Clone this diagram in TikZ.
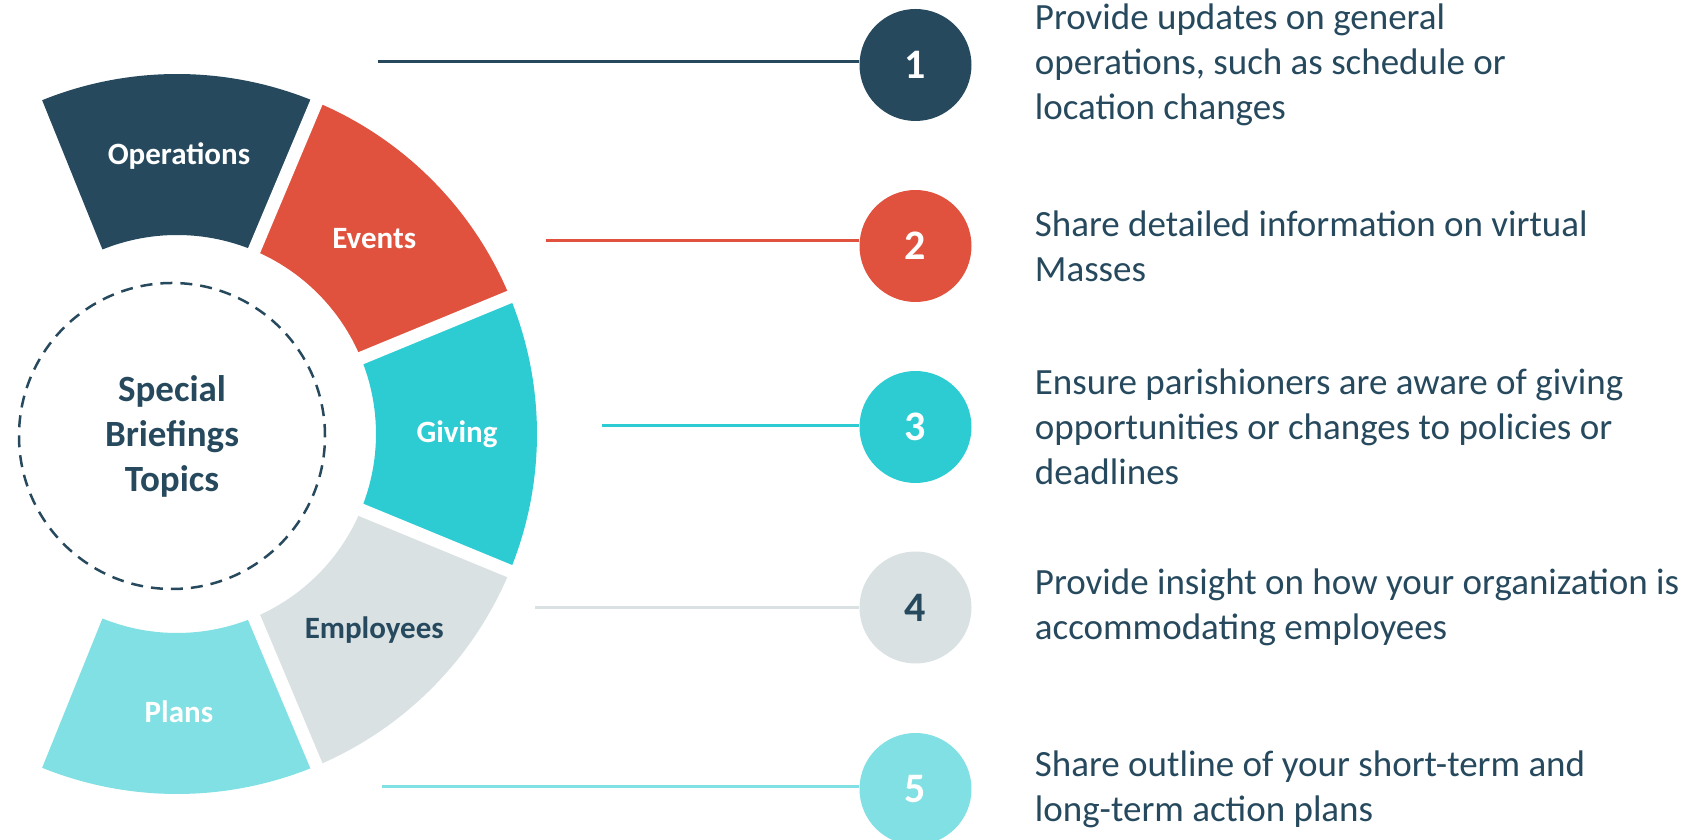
\documentclass[tikz,border=0pt]{standalone}
\usepackage{fontspec}
\setmainfont{Carlito}
\usetikzlibrary{positioning}
\definecolor{navy}{HTML}{26495E}
\definecolor{coral}{HTML}{E0523E}
\definecolor{aqua}{HTML}{2DCCD3}
\definecolor{mist}{HTML}{D9E1E3}
\definecolor{pale}{HTML}{80E0E3}
\tikzstyle{seg} = [font=\bfseries\fontsize{31}{36}\selectfont, text=white]
\tikzstyle{num} = [circle, minimum size=112pt, inner sep=0pt, font=\bfseries\fontsize{42}{48}\selectfont, text=white]
\tikzstyle{desc} = [align=left, inner sep=0pt, text=navy, font=\fontsize{37}{45}\selectfont]
\tikzstyle{link} = [line width=3pt]

\begin{document}
\begin{tikzpicture}[
			x=1pt, y=1pt,
			gap/.style={white, line width=13pt},
		]
		\useasboundingbox (0,0) rectangle (1701,840);

		% Ring of topics
		\begin{scope}[shift={(177,406)}]
			\fill[navy] (112:199) arc[start angle=112, end angle=67.2, radius=199]
				-- (67.2:360) arc[start angle=67.2, end angle=112, radius=360] -- cycle;
			\fill[coral] (67.2:199) arc[start angle=67.2, end angle=22.4, radius=199]
				-- (22.4:360) arc[start angle=22.4, end angle=67.2, radius=360] -- cycle;
			\fill[aqua] (22.4:199) arc[start angle=22.4, end angle=-22.4, radius=199]
				-- (-22.4:360) arc[start angle=-22.4, end angle=22.4, radius=360] -- cycle;
			\fill[mist] (-22.4:199) arc[start angle=-22.4, end angle=-67.2, radius=199]
				-- (-67.2:360) arc[start angle=-67.2, end angle=-22.4, radius=360] -- cycle;
			\fill[pale] (-67.2:199) arc[start angle=-67.2, end angle=-112, radius=199]
				-- (-112:360) arc[start angle=-112, end angle=-67.2, radius=360] -- cycle;

			% Gaps between segments
			\draw[gap] (67.2:190) -- (67.2:370);
			\draw[gap] (22.4:190) -- (22.4:370);
			\draw[gap] (-22.4:190) -- (-22.4:370);
			\draw[gap] (-67.2:190) -- (-67.2:370);

			% Segment labels
			\node[seg] (ops) at (89.6:278) {Operations};
			\node[seg] (events) at (44.8:278) {Events};
			\node[seg] (giving) at (0:280) {Giving};
			\node[seg, text=navy] (employees) at (-44.8:278) {Employees};
			\node[seg] (plans) at (-89.6:278) {Plans};
		\end{scope}

		% Centre circle
		\node[circle, draw=navy, line width=2.5pt, dash pattern=on 12pt off 8pt,
			minimum size=306pt, align=center, text=navy, font=\bfseries\fontsize{37}{45}\selectfont]
			(topics) at (172,404) {Special\\Briefings\\Topics};

		% Numbered circles
		\node[num, fill=navy] (num1) at (915.5,775) {1};
		\node[num, fill=coral] (num2) at (915.5,594) {2};
		\node[num, fill=aqua] (num3) at (915.5,413) {3};
		\node[num, fill=mist, text=navy] (num4) at (915.5,232.5) {4};
		\node[num, fill=pale] (num5) at (915.5,51) {5};

		% Descriptions
		\node[desc, right=63pt of num1] (desc1) {Provide updates on general\\operations, such as schedule or\\location changes};
		\node[desc, right=63pt of num2] (desc2) {Share detailed information on virtual\\Masses};
		\node[desc, right=63pt of num3] (desc3) {Ensure parishioners are aware of giving\\opportunities or changes to policies or\\deadlines};
		\node[desc, right=63pt of num4] (desc4) {Provide insight on how your organization is\\accommodating employees};
		\node[desc, right=63pt of num5] (desc5) {Share outline of your short-term and\\long-term action plans};

		% Connections
		\coordinate (l1) at (377.5,778);
		\coordinate (l2) at (545.5,599);
		\coordinate (l3) at (602,414);
		\coordinate (l4) at (535,232.5);
		\coordinate (l5) at (382,53.5);
		\draw[link, navy] (l1) -- (l1 -| num1.west);
		\draw[link, coral] (l2) -- (l2 -| num2.west);
		\draw[link, aqua] (l3) -- (l3 -| num3.west);
		\draw[link, mist] (l4) -- (l4 -| num4.west);
		\draw[link, pale] (l5) -- (l5 -| num5.west);
	\end{tikzpicture}
\end{document}
